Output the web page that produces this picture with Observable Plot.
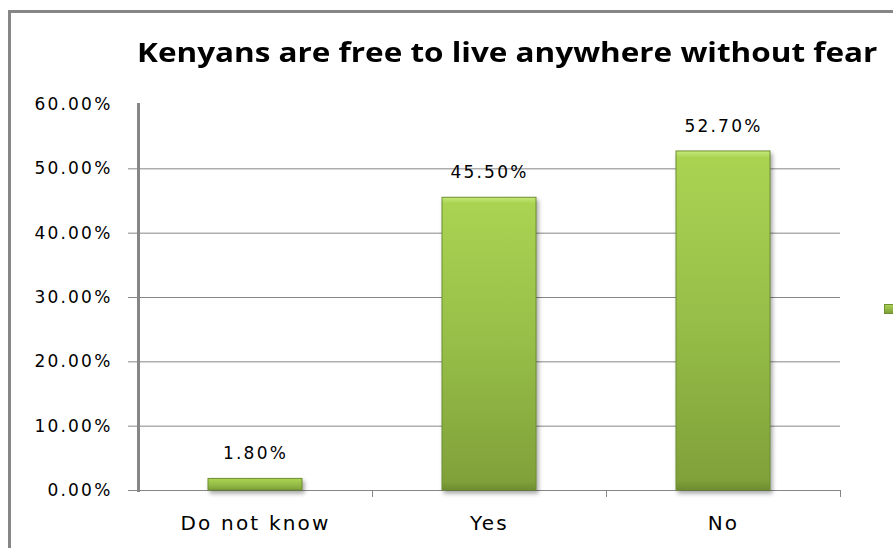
<!DOCTYPE html>
<html>
<head>
<meta charset="utf-8">
<script src="https://cdn.jsdelivr.net/npm/d3@7"></script>
<script src="https://cdn.jsdelivr.net/npm/@observablehq/plot@0.6"></script>
<style>
  body { margin: 0; background: #fff; }
  #wrap { position: relative; width: 893px; height: 548px; overflow: hidden; background: #fff; }
  #frame { position: absolute; left: 8px; top: 10px; width: 1000px; height: 1000px; border: 3px solid #868686; box-sizing: border-box; }
  #title { position: absolute; left: 137px; top: 39px; font: bold 26px "Open Sans", sans-serif; line-height: 1; white-space: nowrap; color: #000; transform: scaleX(1.21); transform-origin: 0 0; }
  #chart { position: absolute; left: 0; top: 0; }
  #legendKey { position: absolute; left: 884px; top: 304px; width: 11px; height: 8px; background: linear-gradient(#a9d152, #7f9f39); border: 1px solid #6f8f30; }
  .kchart g[aria-label="bar"] rect { filter: drop-shadow(2px 3px 2px rgba(0,0,0,0.35)); }
</style>
</head>
<body>
<div id="wrap">
  <div id="frame"></div>
  <div id="chart"></div>
  <div id="title">Kenyans are free to live anywhere without fear</div>
  <div id="legendKey"></div>
</div>
<script>
const categories = ["Do not know", "Yes", "No"];
const values = [0.018, 0.455, 0.527];
const valueLabels = ["1.80%", "45.50%", "52.70%"];
const yTicks = [0, 0.1, 0.2, 0.3, 0.4, 0.5, 0.6];
const gridTicks = [0, 0.1, 0.2, 0.3, 0.4, 0.5];

const data = categories.map((c, i) => ({category: c, value: values[i], label: valueLabels[i]}));

const plot = Plot.plot({
  width: 893,
  height: 548,
  marginLeft: 138,
  marginRight: 53,
  marginTop: 104,
  marginBottom: 58,
  className: "kchart",
  style: {fontFamily: "DejaVu Sans", fontSize: "17px", color: "#000", background: "transparent", letterSpacing: "2.2px"},
  x: {domain: categories, padding: 0, label: null},
  y: {domain: [0, 0.6], label: null},
  marks: [
    Plot.gridY(gridTicks, {stroke: "#868686", strokeOpacity: 1, strokeWidth: 1, insetLeft: -10}),
    Plot.axisY(yTicks, {tickSize: 0, tickPadding: 26, tickFormat: d3.format(".2%"), fill: "#000", fontSize: 17}),
    Plot.axisX({tickSize: 7, dx: 117, tickFormat: () => "", stroke: "#868686", strokeOpacity: 1}),
    Plot.axisX({tickSize: 0, tickPadding: 25, fill: "#000", fontSize: 20}),
    Plot.frame({anchor: "left", stroke: "#868686", strokeWidth: 3}),
    Plot.barY(data, {x: "category", y: "value", fill: "url(#barGrad)", stroke: "#6f8f30", strokeWidth: 1, insetLeft: 70, insetRight: 70}),
    Plot.text(data, {x: "category", y: "value", text: "label", dy: -25, fontSize: 17, fill: "#000"})
  ]
});

const svg = d3.select(plot);
const defs = svg.insert("defs", ":first-child");
const g = defs.append("linearGradient").attr("id", "barGrad").attr("x1", 0).attr("y1", 0).attr("x2", 0).attr("y2", 1);
g.append("stop").attr("offset", "0%").attr("stop-color", "#c6e97a");
g.append("stop").attr("offset", "2%").attr("stop-color", "#aad352");
g.append("stop").attr("offset", "50%").attr("stop-color", "#97be48");
g.append("stop").attr("offset", "97%").attr("stop-color", "#80a13a");
g.append("stop").attr("offset", "100%").attr("stop-color", "#6d8c30");

document.getElementById("chart").appendChild(plot);
</script>
</body>
</html>
